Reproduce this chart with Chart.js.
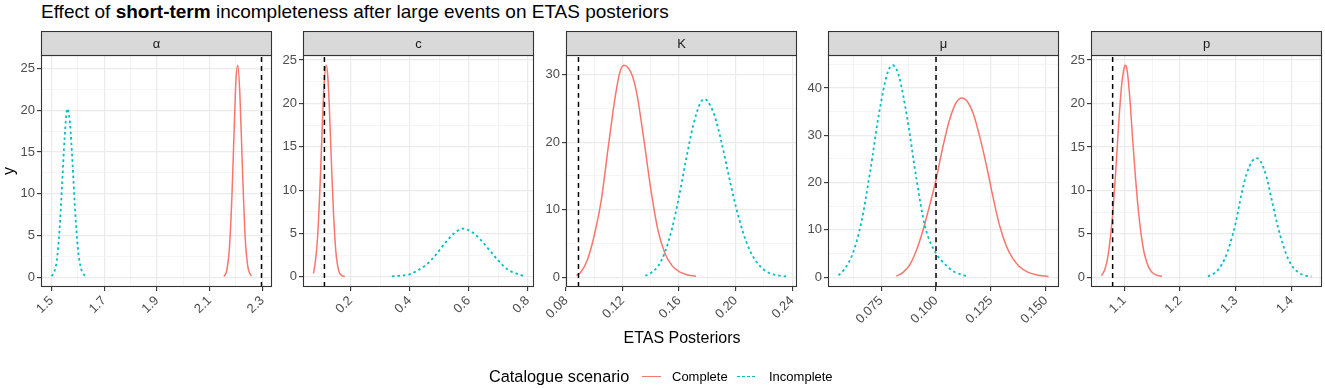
<!DOCTYPE html>
<html>
<head>
<meta charset="utf-8">
<script src="https://cdn.jsdelivr.net/npm/chart.js@4.4.1/dist/chart.umd.min.js"></script>
<style>
  body { margin: 0; background: #fff; font-family: "Liberation Sans", Arial, sans-serif; }
  #wrap { position: relative; width: 1325px; height: 388px; overflow: hidden; background: #fff; }
  canvas { position: absolute; }
  .txt { position: absolute; white-space: nowrap; color: #000; z-index: 2; }
  #title { left: 41px; top: 2px; font-size: 19px; line-height: 19px; }
  #ylab { left: 9px; top: 171px; font-size: 16px; line-height: 16px; transform: translate(-50%, -50%) rotate(-90deg); }
  #xlab { left: 682px; top: 330px; font-size: 16px; line-height: 16px; transform: translateX(-50%); }
  #legTitle { left: 489px; top: 368px; font-size: 16.3px; line-height: 16px; }
  .key { position: absolute; width: 19px; height: 1.6px; z-index: 2; }
  .keyLabel { font-size: 13px; line-height: 13px; top: 370px; }
</style>
</head>
<body>
<div id="wrap">
  <div id="title" class="txt">Effect of <b>short-term</b> incompleteness after large events on ETAS posteriors</div>
  <div id="ylab" class="txt">y</div>
  <div id="xlab" class="txt">ETAS Posteriors</div>
  <div id="legTitle" class="txt">Catalogue scenario</div>
  <div class="key" style="left:642px; top:375.5px; background:#F8766D;"></div>
  <div class="txt keyLabel" style="left:672px;">Complete</div>
  <div class="key" style="left:737px; top:375.5px; background:repeating-linear-gradient(90deg, #00BFC4 0 2.5px, transparent 2.5px 5px);"></div>
  <div class="txt keyLabel" style="left:769px;">Incomplete</div>
</div>
<script>
// facet labels
const panelNames = ['α', 'c', 'K', 'μ', 'p'];
const seriesNames = ['Complete', 'Incomplete'];

// alpha
const alphaCompleteX = [2.155, 2.165, 2.175, 2.185, 2.195, 2.200, 2.207, 2.215, 2.225, 2.235, 2.245, 2.252, 2.259];
const alphaCompleteY = [0.1, 0.8, 3.4, 9.9, 19.4, 23.6, 25.4, 21.9, 12.7, 4.8, 1.3, 0.5, 0.15];
const alphaIncompleteX = [1.500, 1.510, 1.520, 1.530, 1.540, 1.550, 1.560, 1.570, 1.580, 1.590, 1.600, 1.610, 1.620, 1.630];
const alphaIncompleteY = [0.15, 0.6, 2.0, 5.5, 11.0, 16.8, 20.2, 18.5, 13.5, 7.8, 3.5, 1.3, 0.45, 0.12];
const alphaTruth = 2.297;
const alphaXTicks = ['1.5', '1.7', '1.9', '2.1', '2.3'];
const alphaYTicks = ['0', '5', '10', '15', '20', '25'];

// c
const cCompleteX = [0.074, 0.080, 0.085, 0.090, 0.095, 0.100, 0.105, 0.110, 0.117, 0.122, 0.127, 0.132, 0.137, 0.142, 0.147, 0.152, 0.160, 0.170, 0.180];
const cCompleteY = [0.4, 1.7, 3.3, 5.8, 9.5, 13.9, 18.4, 22.2, 24.4, 23.3, 20.1, 15.7, 11.2, 7.2, 4.2, 2.2, 0.66, 0.15, 0.05];
const cIncompleteX = [0.34, 0.37, 0.40, 0.43, 0.46, 0.49, 0.52, 0.55, 0.58, 0.61, 0.64, 0.67, 0.70, 0.73, 0.76, 0.786];
const cIncompleteY = [0.05, 0.15, 0.3, 0.8, 1.5, 2.6, 3.9, 5.0, 5.56, 5.2, 4.3, 3.1, 1.9, 0.9, 0.4, 0.1];
const cTruth = 0.111;
const cXTicks = ['0.2', '0.4', '0.6', '0.8'];
const cYTicks = ['0', '5', '10', '15', '20', '25'];

// K
const kCompleteX = [0.0874, 0.090, 0.095, 0.100, 0.105, 0.110, 0.115, 0.118, 0.121, 0.124, 0.127, 0.130, 0.135, 0.140, 0.145, 0.150, 0.155, 0.160, 0.165, 0.172];
const kCompleteY = [0.25, 0.6, 2.5, 6.2, 11.5, 19.5, 27.0, 30.3, 31.4, 31.0, 29.8, 27.3, 20.5, 13.0, 7.0, 3.5, 1.7, 0.8, 0.4, 0.12];
const kIncompleteX = [0.136, 0.140, 0.145, 0.150, 0.155, 0.160, 0.165, 0.170, 0.175, 0.178, 0.180, 0.185, 0.190, 0.195, 0.200, 0.205, 0.210, 0.215, 0.220, 0.225, 0.230, 0.236];
const kIncompleteY = [0.2, 0.6, 1.6, 3.7, 7.2, 12.0, 17.5, 22.5, 25.8, 26.4, 26.1, 24.0, 20.0, 15.2, 10.6, 6.8, 4.0, 2.2, 1.1, 0.5, 0.25, 0.1];
const kTruth = 0.0888;
const kXTicks = ['0.08', '0.12', '0.16', '0.20', '0.24'];
const kYTicks = ['0', '10', '20', '30'];

// mu
const muCompleteX = [0.0818, 0.085, 0.088, 0.091, 0.094, 0.097, 0.100, 0.103, 0.106, 0.109, 0.1117, 0.114, 0.117, 0.120, 0.123, 0.126, 0.129, 0.132, 0.135, 0.138, 0.142, 0.146, 0.1512];
const muCompleteY = [0.2, 1.0, 2.6, 5.6, 9.8, 15.0, 20.6, 27.3, 33.0, 36.8, 37.9, 37.3, 34.5, 29.5, 23.5, 16.8, 10.8, 6.6, 3.9, 2.2, 1.0, 0.45, 0.15];
const muIncompleteX = [0.0556, 0.058, 0.062, 0.066, 0.070, 0.074, 0.078, 0.0803, 0.083, 0.087, 0.091, 0.095, 0.100, 0.104, 0.108, 0.1139];
const muIncompleteY = [0.4, 1.5, 4.9, 11.6, 22.3, 34.5, 43.3, 44.8, 42.7, 33.3, 21.0, 10.7, 5.0, 2.8, 1.2, 0.2];
const muTruth = 0.100;
const muXTicks = ['0.075', '0.100', '0.125', '0.150'];
const muYTicks = ['0', '10', '20', '30', '40'];

// p
const pCompleteX = [1.059, 1.065, 1.070, 1.075, 1.080, 1.085, 1.090, 1.095, 1.100, 1.102, 1.105, 1.110, 1.115, 1.120, 1.125, 1.130, 1.135, 1.140, 1.145, 1.150, 1.158, 1.1675];
const pCompleteY = [0.2, 0.9, 2.2, 4.6, 8.0, 12.6, 17.8, 22.0, 24.2, 24.4, 23.8, 20.5, 15.8, 11.5, 7.8, 5.0, 3.0, 1.8, 1.0, 0.55, 0.25, 0.1];
const pIncompleteX = [1.250, 1.260, 1.270, 1.280, 1.290, 1.300, 1.310, 1.320, 1.330, 1.338, 1.345, 1.355, 1.365, 1.375, 1.385, 1.395, 1.405, 1.415, 1.425, 1.436];
const pIncompleteY = [0.1, 0.4, 1.0, 2.1, 3.9, 6.3, 9.5, 12.0, 13.4, 13.7, 13.3, 11.6, 8.8, 6.0, 3.7, 2.0, 1.0, 0.45, 0.2, 0.1];
const pTruth = 1.079;
const pXTicks = ['1.1', '1.2', '1.3', '1.4'];
const pYTicks = ['0', '5', '10', '15', '20', '25'];

const panels = [
  { cx: alphaCompleteX, cy: alphaCompleteY, ix: alphaIncompleteX, iy: alphaIncompleteY, truth: alphaTruth, xt: alphaXTicks, yt: alphaYTicks },
  { cx: cCompleteX, cy: cCompleteY, ix: cIncompleteX, iy: cIncompleteY, truth: cTruth, xt: cXTicks, yt: cYTicks },
  { cx: kCompleteX, cy: kCompleteY, ix: kIncompleteX, iy: kIncompleteY, truth: kTruth, xt: kXTicks, yt: kYTicks },
  { cx: muCompleteX, cy: muCompleteY, ix: muIncompleteX, iy: muIncompleteY, truth: muTruth, xt: muXTicks, yt: muYTicks },
  { cx: pCompleteX, cy: pCompleteY, ix: pIncompleteX, iy: pIncompleteY, truth: pTruth, xt: pXTicks, yt: pYTicks }
];

const COLORS = ['#F8766D', '#00BFC4'];
const PANEL_LEFT = [41, 303, 566, 828, 1091];
const PANEL_W = 231;
const AXIS_W = 40;     // room for y labels
const STRIP_H = 23.7;
const TOP = 31;
const CANVAS_H = 300;
const X_AXIS_H = 44;

Chart.defaults.font.family = '"Liberation Sans", Arial, sans-serif';

function zip(xs, ys) {
  return xs.map((x, i) => ({ x: x, y: ys[i] }));
}

// majors from the labels plus ggplot-style minor breaks half way between
function makeTicks(labels, min, max) {
  const vals = labels.map(Number);
  const step = vals[1] - vals[0];
  const out = vals.map((v, i) => ({ value: v, lbl: labels[i] }));
  for (let i = -1; i < vals.length; i++) {
    const m = vals[0] + (i + 0.5) * step;
    if (m > min && m < max) out.push({ value: m, lbl: '', minor: true });
  }
  return out.sort((a, b) => a.value - b.value);
}

function expand(lo, hi) {
  const r = hi - lo;
  return [lo - 0.05 * r, hi + 0.05 * r];
}

const panelFrame = {
  id: 'panelFrame',
  afterDraw(chart, args, opts) {
    const { ctx, chartArea: a } = chart;
    const l = Math.round(a.left) + 0.5, r = Math.round(a.right) - 0.5;
    const t = Math.round(a.top) + 0.5, b = Math.round(a.bottom) - 0.5;
    ctx.save();
    ctx.lineWidth = 1.1;
    ctx.strokeStyle = '#333333';
    ctx.strokeRect(l, t, r - l, b - t);
    // strip
    const st = Math.round(a.top - STRIP_H) + 0.5;
    ctx.fillStyle = '#D9D9D9';
    ctx.fillRect(l, st, r - l, t - st);
    ctx.strokeRect(l, st, r - l, t - st);
    ctx.fillStyle = '#1A1A1A';
    ctx.font = '13px "Liberation Sans", Arial, sans-serif';
    ctx.textAlign = 'center';
    ctx.textBaseline = 'middle';
    ctx.fillText(opts.name, (l + r) / 2, (st + t) / 2 + 0.5);
    ctx.restore();
  }
};

const wrap = document.getElementById('wrap');

panels.forEach((p, i) => {
  const canvas = document.createElement('canvas');
  canvas.width = AXIS_W + PANEL_W + 3;
  canvas.height = CANVAS_H;
  canvas.style.left = (PANEL_LEFT[i] - AXIS_W) + 'px';
  canvas.style.top = TOP + 'px';
  wrap.appendChild(canvas);

  const allX = p.cx.concat(p.ix, [p.truth]);
  const allY = p.cy.concat(p.iy);
  const [xMin, xMax] = expand(Math.min(...allX), Math.max(...allX));
  const [yMin, yMax] = expand(Math.min(...allY), Math.max(...allY));

  const gridColor = c => (c.tick && c.tick.minor ? '#EFEFEF' : '#EBEBEB');
  const gridWidth = c => (c.tick && c.tick.minor ? 0.6 : 1.2);
  const tickColor = c => (c.tick && c.tick.minor ? 'rgba(0,0,0,0)' : '#333333');

  new Chart(canvas, {
    type: 'line',
    data: {
      datasets: [
        {
          label: 'truth',
          data: [{ x: p.truth, y: yMin }, { x: p.truth, y: yMax }],
          borderColor: '#000000',
          borderWidth: 1.5,
          borderDash: [5, 4],
          order: 0
        },
        {
          label: seriesNames[0],
          data: zip(p.cx, p.cy),
          borderColor: COLORS[0],
          borderWidth: 1.5,
          order: 2
        },
        {
          label: seriesNames[1],
          data: zip(p.ix, p.iy),
          borderColor: COLORS[1],
          borderWidth: 1.8,
          borderDash: [2.5, 3],
          order: 1
        }
      ]
    },
    options: {
      responsive: false,
      animation: false,
      layout: { padding: { top: STRIP_H, right: 3, left: 0, bottom: 0 } },
      elements: {
        point: { radius: 0 },
        line: { cubicInterpolationMode: 'monotone', fill: false }
      },
      plugins: {
        legend: { display: false },
        tooltip: { enabled: false },
        panelFrame: { name: panelNames[i] }
      },
      scales: {
        x: {
          type: 'linear',
          min: xMin,
          max: xMax,
          bounds: 'data',
          afterBuildTicks: s => { s.ticks = makeTicks(p.xt, xMin, xMax); },
          afterFit: s => { s.height = X_AXIS_H; s.paddingLeft = 0; s.paddingRight = 0; },
          border: { display: false },
          grid: { color: gridColor, lineWidth: gridWidth, tickColor: tickColor, tickWidth: 1.1, tickLength: 4 },
          ticks: {
            autoSkip: false,
            minRotation: 45,
            maxRotation: 45,
            padding: 2,
            color: '#4D4D4D',
            font: { size: 13 },
            callback: (v, idx, ticks) => ticks[idx].lbl
          }
        },
        y: {
          type: 'linear',
          min: yMin,
          max: yMax,
          bounds: 'data',
          afterBuildTicks: s => { s.ticks = makeTicks(p.yt, yMin, yMax); },
          afterFit: s => { s.width = AXIS_W; s.paddingTop = 0; s.paddingBottom = 0; },
          border: { display: false },
          grid: { color: gridColor, lineWidth: gridWidth, tickColor: tickColor, tickWidth: 1.1, tickLength: 4 },
          ticks: {
            autoSkip: false,
            padding: 2,
            color: '#4D4D4D',
            font: { size: 13 },
            callback: (v, idx, ticks) => ticks[idx].lbl
          }
        }
      }
    },
    plugins: [panelFrame]
  });
});
</script>
</body>
</html>
